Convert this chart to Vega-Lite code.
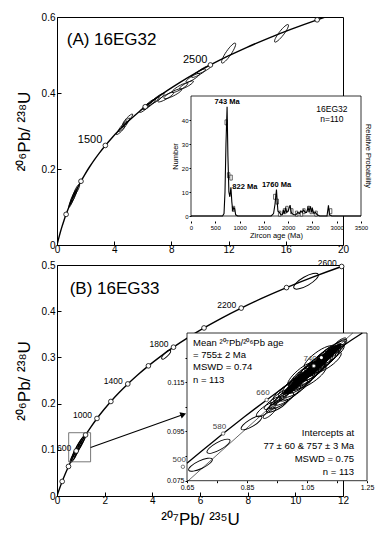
{
"$schema": "https://vega.github.io/schema/vega-lite/v6.json",
"padding": {"left": 14, "top": 11, "right": 4, "bottom": 4},
"config": {
 "font": "Liberation Sans",
 "mark": {"color": "black"},
 "view": {"stroke": "black", "strokeWidth": 1},
 "axis": {"domainColor": "black", "tickColor": "black", "labelColor": "black", "titleColor": "black", "grid": false, "labelFont": "Liberation Sans", "titleFont": "Liberation Sans", "titleFontWeight": "normal", "zindex": 1, "labelFlush": false, "labelOverlap": false},
 "text": {"font": "Liberation Sans", "color": "black"}
},
"datasets": {
 "concordia": [{"t":0,"x":0,"y":0},{"t":50,"x":0.0505,"y":0.00779},{"t":100,"x":0.1035,"y":0.01563},{"t":150,"x":0.1592,"y":0.02354},{"t":200,"x":0.2177,"y":0.03151},{"t":300,"x":0.3437,"y":0.04764},{"t":400,"x":0.4828,"y":0.06402},{"t":500,"x":0.6363,"y":0.08065},{"t":600,"x":0.8056,"y":0.09754},{"t":700,"x":0.9925,"y":0.1147},{"t":800,"x":1.1986,"y":0.13213},{"t":900,"x":1.4264,"y":0.14983},{"t":1000,"x":1.6774,"y":0.16782},{"t":1100,"x":1.9545,"y":0.18606},{"t":1200,"x":2.2603,"y":0.2046},{"t":1300,"x":2.5977,"y":0.22343},{"t":1400,"x":2.9701,"y":0.24256},{"t":1500,"x":3.381,"y":0.26199},{"t":1600,"x":3.8344,"y":0.28172},{"t":1700,"x":4.3347,"y":0.30175},{"t":1800,"x":4.8869,"y":0.3221},{"t":1900,"x":5.4959,"y":0.34277},{"t":2000,"x":6.1685,"y":0.36377},{"t":2100,"x":6.9105,"y":0.38509},{"t":2200,"x":7.7292,"y":0.40674},{"t":2300,"x":8.6326,"y":0.42873},{"t":2400,"x":9.6296,"y":0.45107},{"t":2500,"x":10.7297,"y":0.47375},{"t":2600,"x":11.9437,"y":0.49679},{"t":2700,"x":13.2834,"y":0.52019},{"t":2800,"x":14.7616,"y":0.54396},{"t":2900,"x":16.393,"y":0.5681},{"t":3000,"x":18.1931,"y":0.59261},{"t":3050,"x":19.1618,"y":0.60501}],
 "ellA": [{"x":0.95,"y":0.109,"err":2,"rho":0.73},{"x":1.05,"y":0.118,"err":2.5,"rho":0.72},{"x":1.15,"y":0.127,"err":3,"rho":0.72},{"x":1.25,"y":0.136,"err":2.5,"rho":0.71},{"x":1.38,"y":0.146,"err":3,"rho":0.7},{"x":4.45,"y":0.302,"err":3,"rho":0.5},{"x":4.62,"y":0.312,"err":3.5,"rho":0.52},{"x":4.8,"y":0.322,"err":3,"rho":0.55},{"x":4.95,"y":0.331,"err":3.5,"rho":0.52},{"x":6.15,"y":0.361,"err":3.5,"rho":0.45},{"x":6.45,"y":0.37,"err":4,"rho":0.44},{"x":6.75,"y":0.378,"err":3.5,"rho":0.42},{"x":7.05,"y":0.386,"err":4,"rho":0.42},{"x":7.6,"y":0.389,"err":4.5,"rho":0.33},{"x":8.1,"y":0.398,"err":5,"rho":0.3},{"x":8.6,"y":0.414,"err":4.5,"rho":0.33},{"x":9.05,"y":0.421,"err":4,"rho":0.32},{"x":9.5,"y":0.44,"err":4,"rho":0.35},{"x":9.9,"y":0.452,"err":4,"rho":0.33},{"x":10.3,"y":0.462,"err":4,"rho":0.32},{"x":12.0,"y":0.505,"err":6,"rho":0.62},{"x":15.7,"y":0.557,"err":5.5,"rho":0.58}],
 "histA": [{"age":700,"age2":750,"n":39},{"age":750,"age2":800,"n":17},{"age":800,"age2":850,"n":16},{"age":850,"age2":900,"n":3},{"age":1700,"age2":1750,"n":8},{"age":1750,"age2":1800,"n":6},{"age":1800,"age2":1850,"n":1},{"age":1900,"age2":1950,"n":2},{"age":1950,"age2":2000,"n":3},{"age":2050,"age2":2100,"n":2},{"age":2150,"age2":2200,"n":1},{"age":2250,"age2":2300,"n":1},{"age":2300,"age2":2350,"n":2},{"age":2400,"age2":2450,"n":3},{"age":2450,"age2":2500,"n":2},{"age":2550,"age2":2600,"n":1},{"age":2850,"age2":2900,"n":2}],
 "pdpA": [{"age":0,"n":0},{"age":650,"n":0},{"age":680,"n":1},{"age":700,"n":10},{"age":720,"n":30},{"age":743,"n":45.5},{"age":760,"n":25},{"age":780,"n":10},{"age":800,"n":8},{"age":822,"n":12},{"age":840,"n":6},{"age":860,"n":2},{"age":880,"n":3.5},{"age":900,"n":3},{"age":920,"n":0.5},{"age":960,"n":0},{"age":1650,"n":0},{"age":1700,"n":1},{"age":1730,"n":5},{"age":1760,"n":11},{"age":1775,"n":6},{"age":1790,"n":2},{"age":1820,"n":1.5},{"age":1850,"n":0.5},{"age":1880,"n":0.5},{"age":1900,"n":2.5},{"age":1920,"n":1},{"age":1950,"n":3.5},{"age":1970,"n":1.5},{"age":2000,"n":2},{"age":2040,"n":4.5},{"age":2060,"n":2},{"age":2080,"n":1},{"age":2120,"n":0.5},{"age":2160,"n":0.5},{"age":2200,"n":1.5},{"age":2230,"n":1},{"age":2260,"n":2},{"age":2290,"n":1.5},{"age":2320,"n":2.5},{"age":2350,"n":1.5},{"age":2380,"n":1.5},{"age":2410,"n":3.5},{"age":2430,"n":2},{"age":2460,"n":4},{"age":2480,"n":1.5},{"age":2500,"n":3},{"age":2530,"n":1},{"age":2560,"n":1.5},{"age":2600,"n":0.5},{"age":2650,"n":0},{"age":2800,"n":0},{"age":2830,"n":4.5},{"age":2850,"n":0.5},{"age":2900,"n":0},{"age":3500,"n":0}],
 "peaksA": [{"age":743,"n":45.5,"label":"743 Ma"},{"age":1760,"n":11,"label":"1760 Ma"}],
 "ellBmain": [{"x":0.66,"y":0.0815,"err":2.2,"rho":0.66},{"x":0.72,"y":0.0875,"err":2.5,"rho":0.66},{"x":0.78,"y":0.0945,"err":2.5,"rho":0.66},{"x":0.84,"y":0.1005,"err":2.8,"rho":0.66},{"x":0.9,"y":0.106,"err":2.5,"rho":0.66},{"x":0.96,"y":0.1115,"err":2.8,"rho":0.66},{"x":1.02,"y":0.117,"err":2.5,"rho":0.66},{"x":1.08,"y":0.122,"err":2.2,"rho":0.66},{"x":4.58,"y":0.306,"err":3,"rho":0.5},{"x":10.45,"y":0.465,"err":7,"rho":0.33}],
 "concB": [{"t":508.5,"x":0.65,"y":0.08208},{"t":520,"x":0.6688,"y":0.08401},{"t":540,"x":0.702,"y":0.08738},{"t":560,"x":0.7359,"y":0.09076},{"t":580,"x":0.7704,"y":0.09414},{"t":600,"x":0.8056,"y":0.09754},{"t":620,"x":0.8415,"y":0.10095},{"t":640,"x":0.8782,"y":0.10438},{"t":660,"x":0.9155,"y":0.10781},{"t":680,"x":0.9536,"y":0.11125},{"t":700,"x":0.9925,"y":0.1147},{"t":720,"x":1.0321,"y":0.11817},{"t":740,"x":1.0726,"y":0.12164},{"t":760,"x":1.1138,"y":0.12513},{"t":780,"x":1.1558,"y":0.12862},{"t":800,"x":1.1986,"y":0.13213},{"t":816.3,"x":1.2344,"y":0.135}],
 "agesB": [{"t":500,"x":0.6363,"y":0.08065},{"t":580,"x":0.7704,"y":0.09414},{"t":660,"x":0.9155,"y":0.10781},{"t":740,"x":1.0726,"y":0.12164}],
 "discordia": [{"x":0.65,"y":0.07453},{"x":1.2026,"y":0.135}],
 "ellB": [{"x":0.695,"y":0.0815,"err":6.5,"rho":0.28},{"x":0.755,"y":0.089,"err":6.5,"rho":0.32},{"x":0.865,"y":0.0985,"err":6,"rho":0.35},{"x":0.915,"y":0.104,"err":6,"rho":0.38},{"x":0.935,"y":0.1065,"err":5,"rho":0.4},{"x":0.95,"y":0.1055,"err":6,"rho":0.33},{"x":0.96,"y":0.109,"err":6,"rho":0.4},{"x":0.965,"y":0.1075,"err":7,"rho":0.36},{"x":0.925,"y":0.1025,"err":4,"rho":0.45},
  {"x":0.975,"y":0.1112,"err":7,"rho":0.42},{"x":0.985,"y":0.1098,"err":8,"rho":0.4},{"x":0.995,"y":0.113,"err":7.5,"rho":0.43},{"x":1.005,"y":0.1118,"err":8.5,"rho":0.41},{"x":1.01,"y":0.1145,"err":8,"rho":0.44},{"x":1.02,"y":0.1135,"err":9,"rho":0.4},{"x":1.025,"y":0.116,"err":7,"rho":0.43},{"x":1.03,"y":0.115,"err":8.5,"rho":0.42},{"x":1.035,"y":0.1178,"err":8,"rho":0.44},{"x":1.04,"y":0.1162,"err":9,"rho":0.41},{"x":1.045,"y":0.1185,"err":7.5,"rho":0.42},{"x":1.05,"y":0.1172,"err":8.5,"rho":0.4},{"x":1.055,"y":0.1195,"err":8,"rho":0.43},{"x":1.06,"y":0.1184,"err":9,"rho":0.42},{"x":1.065,"y":0.1205,"err":8.5,"rho":0.44},{"x":1.07,"y":0.1195,"err":8,"rho":0.41},{"x":1.075,"y":0.1218,"err":8.5,"rho":0.42},{"x":1.08,"y":0.1205,"err":9,"rho":0.43},{"x":1.085,"y":0.1228,"err":8,"rho":0.41},{"x":1.09,"y":0.1218,"err":8.5,"rho":0.42},{"x":1.095,"y":0.124,"err":7.5,"rho":0.44},{"x":1.1,"y":0.1228,"err":8.5,"rho":0.42},{"x":1.105,"y":0.125,"err":8,"rho":0.43},{"x":1.11,"y":0.124,"err":8.5,"rho":0.41},{"x":1.115,"y":0.1262,"err":7,"rho":0.42},{"x":1.12,"y":0.125,"err":8,"rho":0.44},{"x":1.125,"y":0.1272,"err":7,"rho":0.42},{"x":1.13,"y":0.1262,"err":8,"rho":0.4},{"x":1.14,"y":0.128,"err":7,"rho":0.43},{"x":1.15,"y":0.1292,"err":6,"rho":0.42},{"x":1.155,"y":0.1302,"err":5,"rho":0.45},{"x":1.06,"y":0.117,"err":9.5,"rho":0.38},{"x":1.09,"y":0.1252,"err":9,"rho":0.4},{"x":1.03,"y":0.1182,"err":8.5,"rho":0.45},{"x":1.12,"y":0.1232,"err":8,"rho":0.4}],
 "coreB": [{"x":1.0,"y":0.1128,"err":5,"rho":0.42},{"x":1.03,"y":0.1162,"err":6,"rho":0.42},{"x":1.06,"y":0.1192,"err":6.5,"rho":0.42},{"x":1.09,"y":0.1232,"err":6.5,"rho":0.42},{"x":1.12,"y":0.1262,"err":5.5,"rho":0.42},{"x":1.14,"y":0.1283,"err":4.5,"rho":0.42}]
},
"spacing": 3,
"vconcat": [
 {
  "width": 286, "height": 228,
  "resolve": {"scale": {"x": "independent", "y": "independent"}, "axis": {"x": "independent", "y": "independent"}},
  "layer": [
   {
    "layer": [
     {"data": {"name": "concordia"}, "mark": {"type": "line", "color": "black", "strokeWidth": 1.4, "clip": true, "interpolate": "monotone"},
      "encoding": {
       "x": {"field": "x", "type": "quantitative", "scale": {"domain": [0, 20], "nice": false, "zero": false}, "axis": {"orient": "bottom", "values": [0,2,4,6,8,10,12,14,16,18,20], "labelExpr": "datum.value % 4 == 0 ? datum.label : ''", "tickSize": -4, "labelPadding": 3, "labelFontSize": 10, "title": null, "domain": false}},
       "y": {"field": "y", "type": "quantitative", "scale": {"domain": [0, 0.6], "nice": false, "zero": false}, "axis": {"orient": "left", "values": [0,0.1,0.2,0.3,0.4,0.5,0.6], "labelExpr": "round(datum.value*10) % 2 == 0 ? format(datum.value, '~g') : ''", "tickSize": -4, "labelPadding": 6, "labelFontSize": 10, "title": "²⁰⁶Pb/ ²³⁸U", "titleFontSize": 17, "titlePadding": 8, "domain": false}}
      }},
     {"data": {"name": "ellA"}, "mark": {"type": "point", "shape": "M-1,0A1,0.22 0 1,1 1,0A1,0.22 0 1,1 -1,0Z", "filled": false, "color": "black", "strokeWidth": 0.8, "opacity": 1},
      "encoding": {"x": {"field": "x", "type": "quantitative"}, "y": {"field": "y", "type": "quantitative"}, "size": {"field": "err", "type": "quantitative", "scale": {"type": "pow", "exponent": 2, "domain": [0, 10], "range": [0, 1600]}, "legend": null}, "angle": {"field": "rho", "type": "quantitative", "scale": {"domain": [0, 1], "range": [0, -90]}, "legend": null}}},
     {"data": {"name": "concordia"}, "transform": [{"filter": "datum.t > 0 && datum.t % 500 == 0"}], "mark": {"type": "point", "shape": "circle", "filled": true, "fill": "white", "stroke": "black", "strokeWidth": 0.8, "size": 22, "opacity": 1},
      "encoding": {"x": {"field": "x", "type": "quantitative"}, "y": {"field": "y", "type": "quantitative"}}},
     {"data": {"name": "concordia"}, "transform": [{"filter": "datum.t == 1500 || datum.t == 2500"}], "mark": {"type": "text", "align": "right", "baseline": "middle", "dx": -3, "dy": -5, "fontSize": 11, "color": "black"},
      "encoding": {"x": {"field": "x", "type": "quantitative"}, "y": {"field": "y", "type": "quantitative"}, "text": {"field": "t", "type": "nominal"}}},
     {"data": {"values": [{}]}, "mark": {"type": "text", "align": "left", "baseline": "middle", "fontSize": 17, "color": "black"}, "encoding": {"x": {"datum": 0.68}, "y": {"datum": 0.539}, "text": {"value": "(A) 16EG32"}}}
    ]
   },
   {
    "layer": [
     {"data": {"values": [{}]}, "mark": {"type": "rect", "fill": "white", "stroke": "black", "strokeWidth": 0.8}, "encoding": {"x": {"datum": 0}, "x2": {"datum": 3500}, "y": {"datum": 0}, "y2": {"datum": 50}}},
     {"data": {"name": "histA"}, "mark": {"type": "bar", "fill": "white", "stroke": "black", "strokeWidth": 0.6},
      "encoding": {
       "x": {"field": "age", "type": "quantitative", "scale": {"domain": [0, 3500], "range": [134, 304], "nice": false, "zero": false}, "axis": {"orient": "bottom", "offset": -24, "values": [0,500,1000,1500,2000,2500,3000,3500], "format": "d", "tickSize": 2, "labelFontSize": 6, "labelPadding": 1, "title": "Zircon age (Ma)", "titleFontSize": 7.5, "titlePadding": 1, "domain": false}},
       "x2": {"field": "age2"},
       "y": {"field": "n", "type": "quantitative", "scale": {"domain": [0, 50], "range": [204, 74], "nice": false, "zero": false}, "axis": {"orient": "left", "offset": -134, "values": [0,10,20,30,40], "tickSize": 2, "labelFontSize": 6, "labelPadding": 1, "title": "Number", "titleFontSize": 7.5, "titlePadding": 2, "domain": false}}
      }},
     {"data": {"name": "pdpA"}, "mark": {"type": "line", "color": "black", "strokeWidth": 1.1}, "encoding": {"x": {"field": "age", "type": "quantitative"}, "y": {"field": "n", "type": "quantitative"}}},
     {"data": {"name": "peaksA"}, "mark": {"type": "text", "align": "center", "baseline": "bottom", "dy": -1, "fontSize": 7.5, "fontWeight": "bold", "color": "black"}, "encoding": {"x": {"field": "age", "type": "quantitative"}, "y": {"field": "n", "type": "quantitative"}, "text": {"field": "label", "type": "nominal"}}},
     {"data": {"values": [{}]}, "mark": {"type": "text", "align": "left", "baseline": "middle", "fontSize": 7.5, "fontWeight": "bold", "color": "black"}, "encoding": {"x": {"datum": 850}, "y": {"datum": 12}, "text": {"value": "822 Ma"}}},
     {"data": {"values": [{}]}, "mark": {"type": "text", "align": "center", "baseline": "middle", "fontSize": 8.5, "lineHeight": 10, "color": "black"}, "encoding": {"x": {"datum": 2900}, "y": {"datum": 44.5}, "text": {"value": ["16EG32", "n=110"]}}},
     {"data": {"values": [{}]}, "mark": {"type": "text", "align": "center", "baseline": "middle", "fontSize": 7.5, "angle": 90, "color": "black"}, "encoding": {"x": {"datum": 3640}, "y": {"datum": 25}, "text": {"value": "Relative Probability"}}}
    ]
   }
  ]
 },
 {
  "width": 286, "height": 231,
  "resolve": {"scale": {"x": "independent", "y": "independent"}, "axis": {"x": "independent", "y": "independent"}},
  "layer": [
   {
    "layer": [
     {"data": {"name": "concordia"}, "mark": {"type": "line", "color": "black", "strokeWidth": 1.4, "clip": true, "interpolate": "monotone"},
      "encoding": {
       "x": {"field": "x", "type": "quantitative", "scale": {"domain": [0, 12], "nice": false, "zero": false}, "axis": {"orient": "bottom", "values": [0,1,2,3,4,5,6,7,8,9,10,11,12], "labelExpr": "datum.value % 2 == 0 ? datum.label : ''", "tickSize": -4, "labelPadding": 3, "labelFontSize": 10, "title": "²⁰⁷Pb/ ²³⁵U", "titleFontSize": 17, "titlePadding": 6, "domain": false}},
       "y": {"field": "y", "type": "quantitative", "scale": {"domain": [0, 0.5], "nice": false, "zero": false}, "axis": {"orient": "left", "values": [0,0.1,0.2,0.3,0.4,0.5], "format": "~g", "tickSize": -4, "labelPadding": 6, "labelFontSize": 10, "title": "²⁰⁶Pb/ ²³⁸U", "titleFontSize": 17, "titlePadding": 8, "domain": false}}
      }},
     {"data": {"name": "ellBmain"}, "mark": {"type": "point", "shape": "M-1,0A1,0.32 0 1,1 1,0A1,0.32 0 1,1 -1,0Z", "filled": false, "color": "black", "strokeWidth": 1, "opacity": 1},
      "encoding": {"x": {"field": "x", "type": "quantitative"}, "y": {"field": "y", "type": "quantitative"}, "size": {"field": "err", "type": "quantitative", "scale": {"type": "pow", "exponent": 2, "domain": [0, 10], "range": [0, 1600]}, "legend": null}, "angle": {"field": "rho", "type": "quantitative", "scale": {"domain": [0, 1], "range": [0, -90]}, "legend": null}}},
     {"data": {"name": "concordia"}, "transform": [{"filter": "datum.t > 0 && datum.t % 200 == 0 && datum.t <= 2600"}], "mark": {"type": "point", "shape": "circle", "filled": true, "fill": "white", "stroke": "black", "strokeWidth": 0.8, "size": 22, "opacity": 1},
      "encoding": {"x": {"field": "x", "type": "quantitative"}, "y": {"field": "y", "type": "quantitative"}}},
     {"data": {"name": "concordia"}, "transform": [{"filter": "indexof([600,1000,1400,1800,2200,2600], datum.t) >= 0"}], "mark": {"type": "text", "align": "right", "baseline": "middle", "dx": -5, "dy": -3, "fontSize": 8.5, "color": "black"},
      "encoding": {"x": {"field": "x", "type": "quantitative"}, "y": {"field": "y", "type": "quantitative"}, "text": {"field": "t", "type": "nominal"}}},
     {"data": {"values": [{}]}, "mark": {"type": "rect", "fill": "white", "fillOpacity": 0, "stroke": "#555555", "strokeWidth": 0.8}, "encoding": {"x": {"datum": 0.49}, "x2": {"datum": 1.41}, "y": {"datum": 0.074}, "y2": {"datum": 0.137}}},
     {"data": {"values": [{}]}, "mark": {"type": "rule", "color": "black", "strokeWidth": 1.1}, "encoding": {"x": {"datum": 1.41}, "y": {"datum": 0.105}, "x2": {"datum": 5.3}, "y2": {"datum": 0.1765}}},
     {"data": {"values": [{}]}, "mark": {"type": "point", "shape": "triangle-right", "filled": true, "color": "black", "size": 45, "opacity": 1, "angle": -19.5}, "encoding": {"x": {"datum": 5.3}, "y": {"datum": 0.1765}}},
     {"data": {"values": [{}]}, "mark": {"type": "text", "align": "left", "baseline": "middle", "fontSize": 17, "color": "black"}, "encoding": {"x": {"datum": 0.53}, "y": {"datum": 0.447}, "text": {"value": "(B) 16EG33"}}}
    ]
   },
   {
    "layer": [
     {"data": {"values": [{}]}, "mark": {"type": "rect", "fill": "white", "stroke": "black", "strokeWidth": 0.8}, "encoding": {"x": {"datum": 0.65}, "x2": {"datum": 1.25}, "y": {"datum": 0.075}, "y2": {"datum": 0.135}}},
     {"data": {"name": "discordia"}, "mark": {"type": "line", "color": "black", "strokeWidth": 0.6},
      "encoding": {
       "x": {"field": "x", "type": "quantitative", "scale": {"domain": [0.65, 1.25], "range": [130, 310], "nice": false, "zero": false}, "axis": {"orient": "bottom", "offset": -15.3, "values": [0.65,0.75,0.85,0.95,1.05,1.15,1.25], "labelExpr": "round(datum.value*100) % 20 == 5 ? format(datum.value, '.2f') : ''", "tickSize": 2, "labelFontSize": 7, "labelPadding": 1, "title": null, "domain": false}},
       "y": {"field": "y", "type": "quantitative", "scale": {"domain": [0.075, 0.135], "range": [215.7, 68], "nice": false, "zero": false}, "axis": {"orient": "left", "offset": -130, "values": [0.075,0.085,0.095,0.105,0.115,0.125], "labelExpr": "round(datum.value*1000) % 20 == 15 ? format(datum.value, '.3f') : ''", "tickSize": 2, "labelFontSize": 7, "labelPadding": 1, "title": null, "domain": false}}
      }},
     {"data": {"name": "concB"}, "mark": {"type": "line", "color": "black", "strokeWidth": 1.3, "interpolate": "monotone"}, "encoding": {"x": {"field": "x", "type": "quantitative"}, "y": {"field": "y", "type": "quantitative"}}},
     {"data": {"name": "coreB"}, "mark": {"type": "point", "shape": "M-1,0A1,0.3 0 1,1 1,0A1,0.3 0 1,1 -1,0Z", "filled": true, "color": "black", "opacity": 1},
      "encoding": {"x": {"field": "x", "type": "quantitative"}, "y": {"field": "y", "type": "quantitative"}, "size": {"field": "err", "type": "quantitative", "scale": {"type": "pow", "exponent": 2, "domain": [0, 10], "range": [0, 1600]}, "legend": null}, "angle": {"field": "rho", "type": "quantitative", "scale": {"domain": [0, 1], "range": [0, -90]}, "legend": null}}},
     {"data": {"name": "ellB"}, "mark": {"type": "point", "shape": "M-1,0A1,0.3 0 1,1 1,0A1,0.3 0 1,1 -1,0Z", "filled": false, "color": "black", "strokeWidth": 0.9, "opacity": 1},
      "encoding": {"x": {"field": "x", "type": "quantitative"}, "y": {"field": "y", "type": "quantitative"}, "size": {"field": "err", "type": "quantitative", "scale": {"type": "pow", "exponent": 2, "domain": [0, 10], "range": [0, 1600]}, "legend": null}, "angle": {"field": "rho", "type": "quantitative", "scale": {"domain": [0, 1], "range": [0, -90]}, "legend": null}}},
     {"data": {"values": [{}]}, "mark": {"type": "point", "shape": "circle", "filled": true, "color": "white", "size": 10, "opacity": 1}, "encoding": {"x": {"datum": 1.098}, "y": {"datum": 0.125}}},
     {"data": {"name": "agesB"}, "mark": {"type": "point", "shape": "circle", "filled": true, "fill": "white", "stroke": "#444444", "strokeWidth": 0.7, "size": 12, "opacity": 1}, "encoding": {"x": {"field": "x", "type": "quantitative"}, "y": {"field": "y", "type": "quantitative"}}},
     {"data": {"name": "agesB"}, "mark": {"type": "text", "align": "right", "baseline": "bottom", "dx": 3, "dy": -3, "fontSize": 8, "color": "#444444"}, "encoding": {"x": {"field": "x", "type": "quantitative"}, "y": {"field": "y", "type": "quantitative"}, "text": {"field": "t", "type": "nominal"}}},
     {"data": {"values": [{}]}, "mark": {"type": "text", "align": "left", "baseline": "middle", "fontSize": 9.5, "lineHeight": 12.3, "color": "black"}, "encoding": {"x": {"datum": 0.67}, "y": {"datum": 0.131}, "text": {"value": ["Mean ²⁰⁷Pb/²⁰⁶Pb age", "= 755± 2 Ma", "MSWD = 0.74", "n = 113"]}}},
     {"data": {"values": [{}]}, "mark": {"type": "text", "align": "right", "baseline": "middle", "fontSize": 9.5, "lineHeight": 13, "color": "black"}, "encoding": {"x": {"datum": 1.207}, "y": {"datum": 0.0944}, "text": {"value": ["Intercepts at", "77 ± 60 & 757 ± 3  Ma", "MSWD = 0.75", "n = 113"]}}}
    ]
   }
  ]
 }
]
}
